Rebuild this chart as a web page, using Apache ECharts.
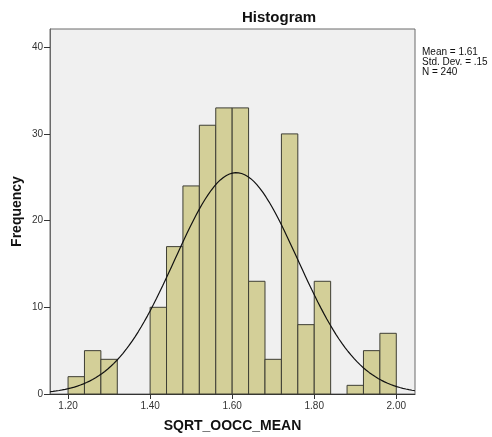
<!DOCTYPE html>
<html>
<head>
<meta charset="utf-8">
<script src="https://cdn.jsdelivr.net/npm/echarts@6/dist/echarts.min.js"></script>
<style>
  html, body { margin: 0; padding: 0; background: #ffffff; }
  #chart { width: 492px; height: 437px; }
</style>
</head>
<body>
<div id="chart"></div>
<script>
// Histogram bins (lower edge of each 0.04-wide bin) and their counts
const binStarts = [1.20, 1.24, 1.28, 1.32, 1.36, 1.40, 1.44, 1.48, 1.52, 1.56,
                   1.60, 1.64, 1.68, 1.72, 1.76, 1.80, 1.84, 1.88, 1.92, 1.96];
const counts    = [2, 5, 4, 0, 0, 10, 17, 24, 31, 33,
                   33, 13, 4, 30, 8, 13, 0, 1, 5, 7];
const binWidth = 0.04;

// Summary statistics shown beside the plot
const statMean = 1.61;
const statSd = 0.15;
const statN = 240;

// Axis tick labels
const xTicks = [1.20, 1.40, 1.60, 1.80, 2.00];
const yTicks = [0, 10, 20, 30, 40];

const xMin = 1.156, xMax = 2.0456;
const yMin = 0, yMax = 42.1;

// Fitted normal curve scaled to counts per bin
const curve = [];
const steps = 120;
for (let i = 0; i <= steps; i++) {
  const x = xMin + (xMax - xMin) * i / steps;
  const z = (x - statMean) / statSd;
  const y = statN * binWidth / (statSd * Math.sqrt(2 * Math.PI)) * Math.exp(-0.5 * z * z);
  curve.push([x, y]);
}

const barData = binStarts
  .map((s, i) => [s, s + binWidth, counts[i]])
  .filter(d => d[2] > 0);

const chart = echarts.init(document.getElementById('chart'), null, { renderer: 'canvas' });

const fontFam = 'Liberation Sans, Arial, sans-serif';
const tickFont = { fontFamily: fontFam, fontSize: 10, color: '#333333' };

chart.setOption({
  animation: false,
  backgroundColor: '#ffffff',
  title: {
    text: 'Histogram',
    left: 237,
    top: 5,
    textStyle: { fontFamily: fontFam, fontSize: 15, fontWeight: 'bold', color: '#111111' }
  },
  graphic: [
    {
      type: 'text',
      left: 422,
      top: 47,
      style: {
        text: 'Mean = ' + statMean.toFixed(2) + '\nStd. Dev. = .' + Math.round(statSd * 100) + '\nN = ' + statN,
        fontFamily: fontFam,
        fontSize: 10,
        lineHeight: 10,
        fill: '#111111'
      }
    }
  ],
  grid: {
    left: 50, top: 29, width: 365, height: 365,
    outerBoundsMode: 'none',
    containLabel: false,
    show: true,
    backgroundColor: '#f0f0f0',
    borderColor: '#6a6a6a',
    borderWidth: 1
  },
  xAxis: {
    type: 'value',
    min: xMin,
    max: xMax,
    name: 'SQRT_OOCC_MEAN',
    nameLocation: 'middle',
    nameGap: 25,
    nameMoveOverlap: false,
    nameTextStyle: { fontFamily: fontFam, fontSize: 14, fontWeight: 'bold', color: '#111111' },
    axisLine: { show: true, lineStyle: { color: '#333333', width: 1 } },
    axisTick: { show: true, customValues: xTicks, length: 5, lineStyle: { color: '#333333' } },
    axisLabel: Object.assign({ customValues: xTicks, margin: 7, formatter: v => v.toFixed(2) }, tickFont),
    splitLine: { show: false }
  },
  yAxis: {
    type: 'value',
    min: yMin,
    max: yMax,
    name: 'Frequency',
    nameLocation: 'middle',
    nameGap: 26,
    nameMoveOverlap: false,
    nameRotate: 90,
    nameTextStyle: { fontFamily: fontFam, fontSize: 14, fontWeight: 'bold', color: '#111111' },
    axisLine: { show: true, lineStyle: { color: '#6a6a6a', width: 1 } },
    axisTick: { show: true, customValues: yTicks, length: 6, lineStyle: { color: '#333333' } },
    axisLabel: Object.assign({ customValues: yTicks, margin: 7 }, tickFont),
    splitLine: { show: false }
  },
  series: [
    {
      type: 'custom',
      data: barData,
      encode: { x: [0, 1], y: 2 },
      renderItem: function (params, api) {
        const p0 = api.coord([api.value(0), api.value(2)]);
        const p1 = api.coord([api.value(1), 0]);
        return {
          type: 'rect',
          shape: { x: p0[0], y: p0[1], width: p1[0] - p0[0], height: p1[1] - p0[1] },
          style: { fill: '#d3cf98', stroke: '#3e3e34', lineWidth: 1 }
        };
      },
      z: 2
    },
    {
      type: 'line',
      data: curve,
      showSymbol: false,
      smooth: false,
      lineStyle: { color: '#111111', width: 1.2 },
      z: 3
    }
  ]
});
</script>
</body>
</html>
